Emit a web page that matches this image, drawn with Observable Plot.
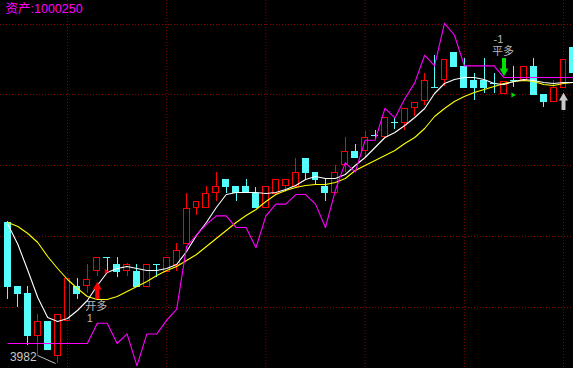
<!DOCTYPE html>
<html>
<head>
<meta charset="utf-8">
<script src="https://cdn.jsdelivr.net/npm/d3@7"></script>
<script src="https://cdn.jsdelivr.net/npm/@observablehq/plot@0.6"></script>
<style>
  html, body { margin: 0; padding: 0; background: #000; overflow: hidden; }
  svg { display: block; }
</style>
</head>
<body>
<div id="chart"></div>
<script>
// ---- data ----
const opens = [4264,4136,4122,4038,4066,3998,4068,4136,4138,4168,
  4194,4180,4167,4166,4136,4180,4166,4180,4222,4294,
  4294,4324,4350,4336,4336,4322,4294,4322,4338,4336,
  4392,4364,4336,4324,4380,4406,4408,4438,4436,4464,
  4464,4494,4508,4534,4550,4604,4576,4548,4548,4542,
  4522,4548,4548,4576,4520,4506,4534,4614];
const closes = [4136,4122,4038,4066,4010,4080,4152,4122,4150,4194,
  4193,4166,4180,4136,4180,4179,4194,4208,4292,4306,
  4322,4336,4336,4324,4324,4294,4336,4350,4350,4364,
  4364,4350,4324,4364,4406,4394,4434,4437,4474,4463,
  4492,4504,4548,4533,4590,4576,4534,4534,4534,4541,
  4546,4547,4576,4520,4506,4534,4590,4564];
const highs = [4266,4136,4136,4080,4066,4080,4152,4152,4180,4194,
  4194,4194,4182,4180,4180,4180,4194,4222,4322,4306,
  4336,4364,4350,4336,4350,4334,4336,4350,4350,4392,
  4392,4364,4350,4378,4434,4420,4446,4448,4474,4474,
  4492,4504,4562,4598,4590,4604,4592,4562,4592,4562,
  4546,4576,4576,4592,4520,4548,4590,4614];
const lows = [4110,4094,4018,3998,4010,3982,4068,4110,4122,4156,
  4164,4154,4156,4136,4136,4154,4166,4166,4222,4278,
  4294,4306,4322,4306,4324,4294,4294,4322,4324,4336,
  4350,4338,4306,4324,4364,4394,4394,4430,4436,4450,
  4448,4476,4498,4533,4536,4576,4534,4508,4522,4522,
  4522,4534,4548,4520,4494,4506,4534,4548];
const maShort = [4260,4220,4168,4114,4074,4066,4072,4088,4108,4138,
  4164,4172,4176,4172,4168,4168,4172,4180,4206,4238,
  4264,4294,4320,4324,4324,4324,4322,4324,4330,4338,
  4350,4356,4352,4352,4360,4378,4394,4414,4434,4444,
  4458,4474,4492,4522,4542,4550,4554,4554,4550,4542,
  4540,4546,4550,4548,4544,4542,4544,4544];
const maLong = [4264,4256,4242,4224,4196,4172,4150,4132,4116,4110,
  4110,4116,4126,4136,4146,4158,4168,4176,4188,4200,
  4216,4232,4248,4264,4278,4290,4306,4320,4328,4334,
  4338,4340,4340,4344,4352,4368,4378,4388,4398,4408,
  4422,4434,4452,4476,4492,4506,4516,4524,4530,4536,
  4542,4546,4548,4546,4540,4538,4542,4544];
const assets = [1000000,1000000,1000000,1000000,1000000,1000000,1000000,1000000,1000000,1000019,
  1000019,1000000,1000009,999979,1000009,1000009,1000022,1000032,1000091,1000102,
  1000112,1000120,1000120,1000109,1000109,1000090,1000120,1000131,1000131,1000140,
  1000140,1000131,1000109,1000144,1000170,1000161,1000191,1000191,1000221,1000212,
  1000230,1000245,1000271,1000261,1000301,1000290,1000261,1000261,1000261,1000261,
  1000250,1000250,1000250,1000250,1000250,1000250,1000250,1000250];
const gridPrices = [4094, 4236, 4378, 4520, 4660];
const gridBars = [6, 16, 26, 36, 46, 56];
const signals = [
  {i: 9, side: "开多", qty: "1", dir: "up", color: "#ff0000"},
  {i: 50, side: "平多", qty: "-1", dir: "down", color: "#00e000"}
];
const hints = [{i: 56, dir: "up", color: "#c8c8c8"}];
const fills = [{i: 10, price: 4166, color: "#ff0000"}, {i: 51, price: 4519, color: "#00e000"}];
const assetLabel = "资产";

// ---- layout ----
const W = 573, H = 368;
const xDomain = [-0.756, 57.006];
const yDomain = [3972, 4708];
const PPX = (yDomain[1] - yDomain[0]) / H;   // price units per pixel
const IPX = (xDomain[1] - xDomain[0]) / W;   // bar units per pixel
// asset curve overlay: base capital sits at price 4022, 1 unit = 2.1277 price units
const assetToPrice = a => 4022 + (a - 1000000) * 2.1277;

const RED = "#ff0000", CYAN = "#54fcfc", GRID = "#8b0000";
const candles = opens.map((o, i) => ({i, open: o, close: closes[i], high: highs[i], low: lows[i]}));
const up = candles.filter(d => d.close >= d.open);
const down = candles.filter(d => d.close < d.open);
const idx = d3.range(candles.length);

const arrows = [...signals, ...hints].map(s => {
  const c = candles[s.i];
  const sgn = s.dir === "up" ? -1 : 1;
  const base = s.dir === "up" ? c.low : c.high;
  return {i: s.i, color: s.color, rot: s.dir === "up" ? 0 : 180,
    head: base + sgn * 10.5 * PPX, y1: base + sgn * 12 * PPX, y2: base + sgn * 23 * PPX};
});
const sigText = signals.map(s => {
  const c = candles[s.i];
  const sgn = s.dir === "up" ? -1 : 1;
  const base = s.dir === "up" ? c.low : c.high;
  return {i: s.i, side: s.side, qty: s.qty,
    sideY: base + sgn * 30 * PPX, qtyY: base + sgn * 42 * PPX};
});
const minLow = d3.min(lows);
const minIdx = lows.indexOf(minLow);

const cjk = "Liberation Sans, Noto Sans CJK SC, sans-serif";

const chart = Plot.plot({
  width: W, height: H, margin: 0,
  x: {type: "linear", domain: xDomain, axis: null},
  y: {type: "linear", domain: yDomain, axis: null},
  style: {background: "#000"},
  marks: [
    Plot.ruleY(gridPrices, {stroke: GRID, strokeDasharray: "1,2"}),
    Plot.ruleX(gridBars, {stroke: GRID, strokeDasharray: "1,2"}),
    Plot.ruleX(up, {x: "i", y1: "low", y2: "high", stroke: RED, shapeRendering: "crispEdges"}),
    Plot.ruleX(down, {x: "i", y1: "low", y2: "high", stroke: CYAN, shapeRendering: "crispEdges"}),
    Plot.rect(up, {x1: d => d.i - 0.3, x2: d => d.i + 0.3, y1: "open", y2: "close", fill: "#000", stroke: RED, shapeRendering: "crispEdges"}),
    Plot.rect(down, {x1: d => d.i - 0.3, x2: d => d.i + 0.3, y1: "open", y2: "close", fill: CYAN, stroke: CYAN, shapeRendering: "crispEdges"}),
    Plot.line(idx, {x: i => i, y: i => maLong[i], stroke: "#ffff00", strokeWidth: 1.1}),
    Plot.line(idx, {x: i => i, y: i => maShort[i], stroke: "#ffffff", strokeWidth: 1.1}),
    Plot.line(idx, {x: i => i, y: i => assetToPrice(assets[i]), stroke: "#ff00ff", strokeWidth: 1.1}),
    // trade arrows
    Plot.ruleX(arrows, {x: "i", y1: "y1", y2: "y2", stroke: "color", strokeWidth: 4}),
    Plot.dot(arrows, {x: "i", y: "head", symbol: "triangle", r: 3.3, fill: "color", stroke: null, rotate: "rot"}),
    Plot.dot(fills, {x: "i", y: "price", symbol: "triangle", r: 1.9, fill: "color", stroke: null, rotate: 90, dx: -1}),
    Plot.text(sigText, {x: "i", y: "sideY", text: "side", textAnchor: "middle", dx: -1,
      fill: "#b8b8b8", fontSize: 11, fontFamily: cjk}),
    Plot.text(sigText, {x: "i", y: "qtyY", text: "qty", textAnchor: "start", dx: -10.5,
      fill: "#b8b8b8", fontSize: 11, fontFamily: cjk}),
    // low label
    Plot.link([minLow], {x1: () => minIdx - 20 * IPX, y1: d => d + 8 * PPX, x2: () => minIdx - 2 * IPX, y2: d => d, stroke: "#c0c0c0"}),
    Plot.text([minLow], {x: () => minIdx, y: d => d, dx: -21, dy: -6.5, text: d => String(d), textAnchor: "end", fill: "#c8c8c8", fontSize: 12, fontFamily: "Liberation Sans, sans-serif"}),
    Plot.text([assetLabel + ":" + assets[assets.length - 1]], {frameAnchor: "top-left", dx: 5, dy: 4, lineAnchor: "top", textAnchor: "start", fill: "#ff00ff", fontSize: 12.5, fontFamily: cjk})
  ]
});
document.getElementById("chart").appendChild(chart);
</script>
</body>
</html>
